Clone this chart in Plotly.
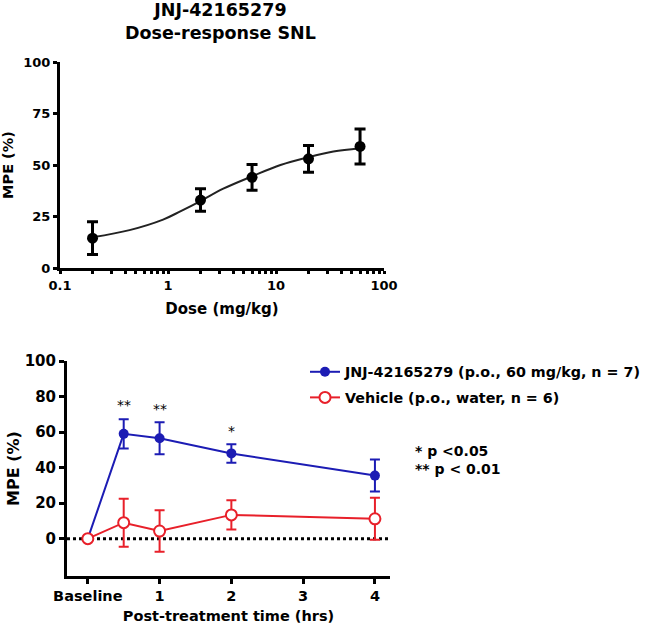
import plotly.graph_objects as go

# ---- Top chart data: dose-response ----
doses = [0.2, 2, 6, 20, 60]
dose_mpe = [14.5, 33, 44, 53, 59]
dose_err = [8, 5.5, 6.3, 6.5, 8.5]
# fitted curve
curve_dose = [0.2, 0.44, 0.9, 1.3, 2, 3.25, 6, 11, 20, 34, 60]
curve_mpe = [14.9, 18.4, 23.5, 27.5, 32.5, 38.5, 44.5, 50, 53.8, 56.5, 58.1]

# ---- Bottom chart data: time course ----
time_vals = [0, 0.5, 1, 2, 4]
time_ticks = [0, 1, 2, 3, 4]
time_ticktext = ["Baseline", "1", "2", "3", "4"]
jnj_mpe = [0, 59, 56.5, 48, 35.5]
jnj_err = [0, 8.2, 9, 5.2, 9]
veh_mpe = [0, 9, 4.3, 13.4, 11.2]
veh_err = [0, 13.5, 11.7, 8.3, 11.8]
sig_x = [0.5, 1, 2]
sig_y = [75, 73, 60.5]
sig_text = ["**", "**", "*"]

W, H = 650, 629
FONT = "DejaVu Sans, Verdana, sans-serif"
BLUE = "#1c1cb4"
RED = "#e8202a"

def px(x):
    return x / W

def py(y):
    return 1 - y / H

def xd(a, b):
    return [px(a), px(b)]

def yd(top, bottom):
    return [py(bottom), py(top)]

def bfont(size):
    return dict(family=FONT, size=size, color="black", weight="bold")

fig = go.Figure()

# top: fitted curve + points
fig.add_trace(go.Scatter(
    x=curve_dose, y=curve_mpe, mode="lines",
    line=dict(color="#222222", width=2, shape="spline", smoothing=1.0),
    showlegend=False, hoverinfo="skip", xaxis="x", yaxis="y"))
fig.add_trace(go.Scatter(
    x=doses, y=dose_mpe, mode="markers",
    marker=dict(color="black", size=11),
    error_y=dict(type="data", array=dose_err, color="black", thickness=3, width=5.5),
    showlegend=False, xaxis="x", yaxis="y"))

# bottom
fig.add_trace(go.Scatter(
    x=time_vals, y=jnj_mpe, mode="lines+markers",
    name="JNJ-42165279 (p.o., 60 mg/kg, n = 7)", legendgroup="a",
    line=dict(color=BLUE, width=2),
    marker=dict(color=BLUE, size=10),
    error_y=dict(type="data", array=jnj_err, color=BLUE, thickness=2, width=5),
    xaxis="x2", yaxis="y2"))
fig.add_trace(go.Scatter(
    x=time_vals, y=veh_mpe, mode="lines+markers",
    name="Vehicle (p.o., water, n = 6)", legendgroup="b",
    line=dict(color=RED, width=2),
    marker=dict(color="white", size=11, line=dict(color=RED, width=2)),
    error_y=dict(type="data", array=veh_err, color=RED, thickness=2, width=5),
    xaxis="x2", yaxis="y2"))

# significance stars
for sx, sy, st in zip(sig_x, sig_y, sig_text):
    fig.add_annotation(x=sx, y=sy, xref="x2", yref="y2", text=st, showarrow=False,
                       font=dict(family=FONT, size=14, color="black"))

# dotted zero line
fig.add_shape(type="line", xref="x2 domain", yref="y2", x0=0, x1=1, y0=0, y1=0,
              line=dict(color="black", width=3, dash="dot"), layer="below")

def axis_common(ticklen, fsize):
    return dict(showline=True, linecolor="black", linewidth=3, ticks="outside",
                tickcolor="black", tickwidth=3, ticklen=ticklen, showgrid=False, zeroline=False,
                automargin=False, tickfont=bfont(fsize))

fig.update_layout(
    width=W, height=H, margin=dict(l=0, r=0, t=0, b=0, autoexpand=False),
    plot_bgcolor="white", paper_bgcolor="white",
    font=dict(family=FONT, color="black"),
    xaxis=dict(type="log", range=[-1, 2], domain=xd(60, 384), anchor="y",
               tickmode="linear", tick0=0, dtick=1,
               minor=dict(ticks="outside", ticklen=3, tickwidth=3, tickcolor="black", dtick="D1"),
               title=dict(text="Dose (mg/kg)", font=bfont(15), standoff=12),
               **axis_common(3, 13)),
    yaxis=dict(range=[0, 100], domain=yd(62, 268), anchor="x",
               tickvals=[0, 25, 50, 75, 100],
               title=dict(text="MPE (%)", font=bfont(14.5), standoff=10),
               **axis_common(4, 13)),
    xaxis2=dict(range=[-0.29, 4.21], domain=xd(67, 390), anchor="y2",
                tickvals=time_ticks, ticktext=time_ticktext,
                title=dict(text="Post-treatment time (hrs)", font=bfont(14.5), standoff=8),
                **axis_common(5, 14.5)),
    yaxis2=dict(range=[-21, 100], domain=yd(361, 576), anchor="x2",
                tickvals=[0, 20, 40, 60, 80, 100],
                title=dict(text="MPE (%)", font=bfont(16), standoff=2),
                **axis_common(5, 15)),
    legend=dict(x=px(305), y=py(356), xanchor="left", yanchor="top",
                font=bfont(14.3), bgcolor="rgba(0,0,0,0)", tracegroupgap=4),
    showlegend=True,
)

# top title
fig.add_annotation(x=px(220), y=py(22), xref="paper", yref="paper", xanchor="center", yanchor="middle",
                   text="JNJ-42165279<br>Dose-response SNL", showarrow=False,
                   font=bfont(17.5))

# significance legend text
fig.add_annotation(x=px(413), y=py(441), xref="paper", yref="paper", xanchor="left", yanchor="top",
                   text="* p <0.05<br>** p < 0.01", showarrow=False, align="left",
                   font=bfont(14))

# remove the default page margin so the figure sits at the window's top-left corner
fig.write_html("out.html", config={"displayModeBar": False},
               post_script="document.body.style.margin='0';")
